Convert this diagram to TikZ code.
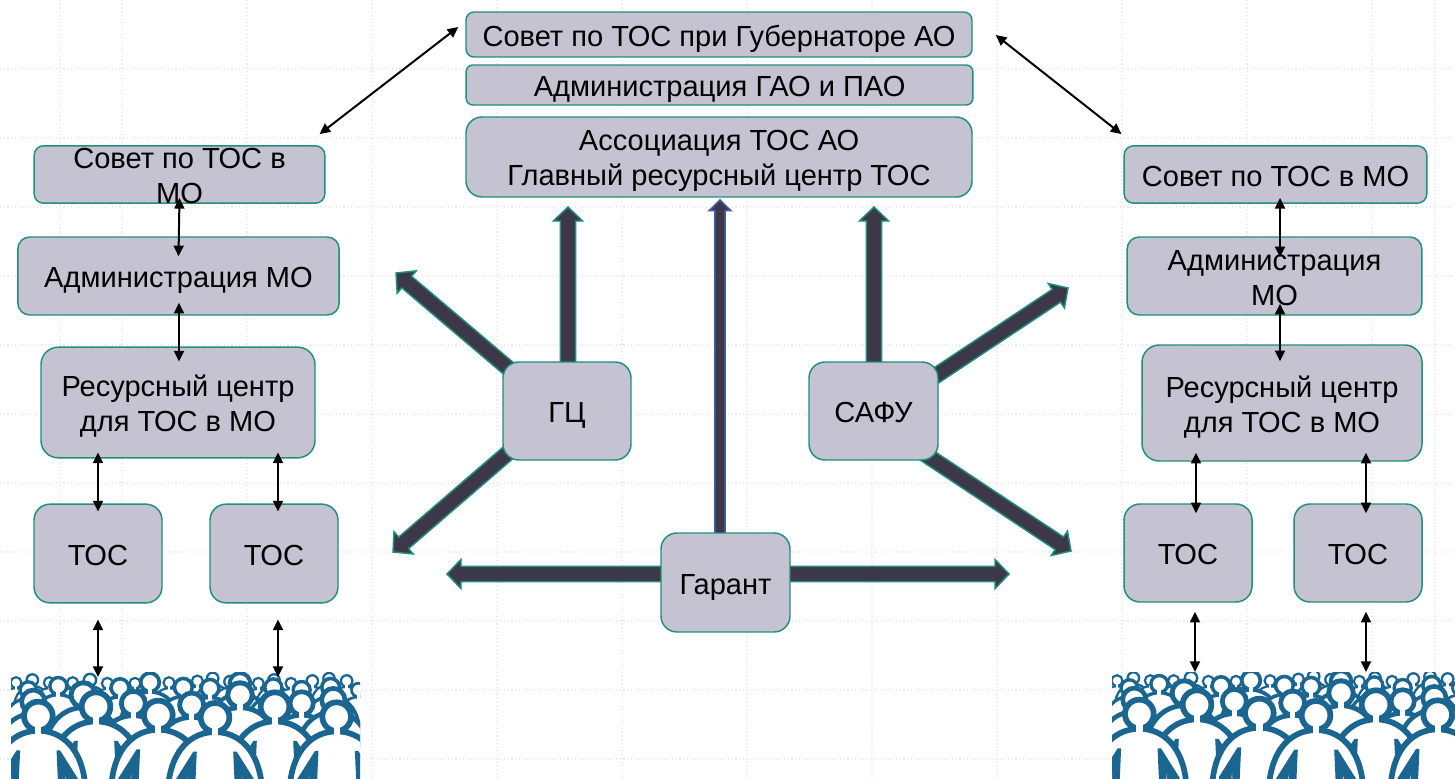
\documentclass[tikz,border=0pt]{standalone}
\usepackage{fontspec}
\setmainfont{Liberation Sans}
\usetikzlibrary{calc,arrows.meta}
\definecolor{boxfill}{HTML}{C5C3D2}
\definecolor{tealline}{HTML}{1F9079}
\definecolor{darkarrow}{HTML}{3C3849}
\definecolor{bluearrow}{HTML}{3F5FA6}
\definecolor{crowdblue}{HTML}{1B6690}
\definecolor{gridgray}{HTML}{EAEAEA}
\pgfdeclarelayer{under}
\pgfsetlayers{under,main}
\newcommand\shaftw{5.7pt}
\newcommand\headw{11pt}
\newcommand\headl{10.5pt}
\newcommand\blockarrow[4][]{%
  \coordinate (ba-s) at ($(#2)+(#3)$);
  \coordinate (ba-t) at #4;
  \coordinate (ba-b) at ($(ba-t)!\headl!(ba-s)$);
  \draw[blockarr,#1] ($(ba-s)!\shaftw!90:(ba-t)$) -- ($(ba-b)!\shaftw!90:(ba-t)$) -- ($(ba-b)!\headw!90:(ba-t)$) -- (ba-t) -- ($(ba-b)!\headw!-90:(ba-t)$) -- ($(ba-b)!\shaftw!-90:(ba-t)$) -- ($(ba-s)!\shaftw!-90:(ba-t)$) -- cycle;}
\newcommand\otxt[2][-8.6pt]{\makebox[0pt]{\smash{\raisebox{#1}{\parbox[c]{440pt}{\centering\strut #2\strut}}}}}
\newcommand\crowdperson[3]{%
  \begin{scope}[shift={(#1,#2)},scale=#3,line width=#3*4.1pt,draw=crowdblue]
    \draw[fill=white] (-150,320) -- (-135,210) .. controls (-128,90) and (-65,42) .. (0,42) .. controls (65,42) and (128,90) .. (135,210) -- (150,320) -- cycle;
    \ifdim #3pt>.95pt
    \fill[crowdblue] (-62,98) -- (-115,182) -- (-125,320) -- (-62,320) -- (-52,98) -- cycle;
    \fill[crowdblue] (62,98) -- (115,182) -- (125,320) -- (62,320) -- (52,98) -- cycle;
    \fill[white] (-78,170) -- (-90,320) -- (-72,320) -- cycle;
    \fill[white] (78,170) -- (90,320) -- (72,320) -- cycle;
    \fi
    \draw[fill=white] (0,0) circle (41);
    \fill[white] (-9,28) rectangle (9,56);
  \end{scope}}
\newcommand\crowdall{%
  \foreach \px/\py/\ps in {48/248/.4,97/240/.42,148/248/.4,218/248/.4,270/240/.45,322/250/.4,405/250/.4,507/248/.4,592/243/.4,638/235/.42,690/245/.42,775/250/.4,822/240/.42,873/250/.4,937/243/.42,987/236/.42,1040/243/.42,1075/270/.5}
    {\crowdperson{\px}{\py}{\ps}}
  \foreach \px/\py/\ps in {85/270/.6,175/258/.62,360/263/.65,450/247/.68,550/262/.65,630/265/.65,720/250/.75,820/262/.62,905/270/.62,992/262/.65}
    {\crowdperson{\px}{\py}{\ps}}
  \foreach \px/\py/\ps in {100/305/.85,250/285/.9,400/310/.88,575/315/.88,720/285/.9,905/310/.85,1000/300/.85}
    {\crowdperson{\px}{\py}{\ps}}
  \foreach \px/\py/\ps in {288/320/1.05,825/320/1.05}
    {\crowdperson{\px}{\py}{\ps}}
  \foreach \px/\py/\ps in {115/348/1.05,475/345/1.05,645/352/1.05,1010/350/1.05}
    {\crowdperson{\px}{\py}{\ps}}}
\tikzset{
  x=0.75pt,y=-0.75pt,
  orgbox/.style={draw=tealline,fill=boxfill,line width=1.1pt,inner sep=0pt,
    font=\fontsize{21.8}{26.3}\selectfont,text=black},
  blockarr/.style={draw=tealline,fill=darkarrow,line width=1.1pt,line join=miter},
  dblarrow/.style={draw=black,line width=1.5pt,{Triangle[length=8pt,width=7.5pt]}-{Triangle[length=8pt,width=7.5pt]}},
  gridline/.style={draw=gridgray,line width=0.8pt,dotted},
  crowdarea/.style={inner sep=0pt,outer sep=0pt}
}
\begin{document}
\begin{tikzpicture}
\useasboundingbox (0,0) rectangle (1455,778);
% org boxes
\node[orgbox,rounded corners=6pt,minimum width=379.5pt,minimum height=33.75pt] (top1) at (719,34.5) {\otxt{Совет по ТОС при Губернаторе АО}};
\node[orgbox,rounded corners=5pt,minimum width=380pt,minimum height=30pt] (top2) at (719.5,85) {\otxt{Администрация ГАО и ПАО}};
\node[orgbox,rounded corners=12pt,minimum width=379.5pt,minimum height=60pt] (top3) at (719,157) {\otxt[-8pt]{Ассоциация ТОС АО\\Главный ресурсный центр ТОС}};
% left column
\node[orgbox,rounded corners=7pt,minimum width=218pt,minimum height=43pt] (lsov) at (179.5,174.5) {\otxt{Совет по ТОС в\\МО}};
\node[orgbox,rounded corners=9pt,minimum width=241pt,minimum height=58.5pt] (ladm) at (178.5,276) {\otxt{Администрация МО}};
\node[orgbox,rounded corners=13pt,minimum width=205.5pt,minimum height=83pt] (lres) at (178,402.5) {\otxt{Ресурсный центр\\для ТОС в МО}};
\node[orgbox,rounded corners=12pt,minimum width=96pt,minimum height=74pt] (ltosa) at (98,553.5) {\otxt{ТОС}};
\node[orgbox,rounded corners=12pt,minimum width=96pt,minimum height=74pt] (ltosb) at (274,553.5) {\otxt{ТОС}};
% right column
\node[orgbox,rounded corners=7pt,minimum width=227pt,minimum height=43pt] (rsov) at (1275.5,174.5) {\otxt{Совет по ТОС в МО}};
\node[orgbox,rounded corners=9pt,minimum width=221pt,minimum height=58.5pt] (radm) at (1274.5,276) {\otxt{Администрация\\МО}};
\node[orgbox,rounded corners=13pt,minimum width=210pt,minimum height=87pt] (rres) at (1282,403) {\otxt{Ресурсный центр\\для ТОС в МО}};
\node[orgbox,rounded corners=12pt,minimum width=96pt,minimum height=73.5pt] (rtosa) at (1188,553) {\otxt{ТОС}};
\node[orgbox,rounded corners=12pt,minimum width=96pt,minimum height=73.5pt] (rtosb) at (1358,553) {\otxt{ТОС}};
% centre
\node[orgbox,rounded corners=12pt,minimum width=96pt,minimum height=73.5pt] (gc) at (567,411) {\otxt{ГЦ}};
\node[orgbox,rounded corners=12pt,minimum width=96.75pt,minimum height=73.5pt] (safu) at (873.5,411) {\otxt{САФУ}};
\node[orgbox,rounded corners=12pt,minimum width=96.75pt,minimum height=74.25pt] (garant) at (725.5,582.5) {\otxt{Гарант}};
% crowds
\node[crowdarea,minimum width=261.75pt,minimum height=76.5pt] (lcrowd) at (185.5,727) {};
\node[crowdarea,minimum width=257.25pt,minimum height=76.5pt] (rcrowd) at (1283.5,727) {};
\begin{scope}
  \clip (lcrowd.north west) ++(0,-4) rectangle (lcrowd.south east);
  \begin{scope}[shift={(0,600)},x=0.25pt,y=-0.25pt]\crowdall\end{scope}
\end{scope}
\begin{scope}
  \clip (rcrowd.north west) ++(0,-4) rectangle (rcrowd.south east);
  \begin{scope}[shift={(1101,598)},x=0.25pt,y=-0.25pt]\crowdall\end{scope}
\end{scope}
% under layer: grid and block arrows
\begin{pgfonlayer}{under}
  \fill[white] (0,0) rectangle (1455,778);
  \foreach \gy in {69,138,...,759} {\draw[gridline] (0,\gy) -- (1455,\gy);}
  \foreach \gx in {60,122,247,372,497,622,747,872,997,1122,1247,1372,1435} {\draw[gridline] (\gx,0) -- (\gx,778);}
  \blockarrow{gc}{1,0}{(568,207)}
  \blockarrow{gc}{0,7}{(396,273)}
  \blockarrow{gc}{0,-9}{(393,552)}
  \blockarrow{safu}{0.5,0}{(874,207)}
  \blockarrow{safu}{0,6}{(1068,288)}
  \blockarrow{safu}{0,9}{(1071,551)}
  \blockarrow{garant}{0,-8.5}{(447,574)}
  \blockarrow{garant}{0,-8.5}{(1009,574)}
  \renewcommand\shaftw{3.9pt}\renewcommand\headw{8.2pt}\renewcommand\headl{8pt}
  \blockarrow[draw=bluearrow]{garant}{-5.5,0}{(720,200)}
\end{pgfonlayer}
% thin double arrows
\draw[dblarrow] ($(lsov.north east)+(-6,-11)$) -- ($(top1.west)+(-7,-7.5)$);
\draw[dblarrow] ($(top1.east)+(23,0.5)$) -- ($(rsov.north west)+(-2,-11)$);
\draw[dblarrow] ($(lsov.south)+(0,-6)$) -- ($(ladm.north)+(0,20)$);
\draw[dblarrow] ($(ladm.south)+(0.5,-13)$) -- ($(lres.north)+(1,15)$);
\draw[dblarrow] ($(lres.south -| ltosa.north)+(0,-6)$) -- ($(ltosa.north)+(0,8)$);
\draw[dblarrow] ($(lres.south -| ltosb.north)+(4,-6)$) -- ($(ltosb.north)+(4,8)$);
\draw[dblarrow] ($(ltosa.south)+(0,16)$) -- ($(ltosa.south |- lcrowd.north)+(0,1)$);
\draw[dblarrow] ($(ltosb.south)+(4,16)$) -- ($(ltosb.south |- lcrowd.north)+(4,1)$);
\draw[dblarrow] ($(rsov.south)+(4.5,-6)$) -- ($(radm.north)+(5.5,21)$);
\draw[dblarrow] ($(radm.south)+(5.5,-12)$) -- ($(rres.north)+(-2,17)$);
\draw[dblarrow] ($(rres.south -| rtosa.north)+(8,-9)$) -- ($(rtosa.north)+(8,10)$);
\draw[dblarrow] ($(rres.south -| rtosb.north)+(8,-9)$) -- ($(rtosb.north)+(8,10)$);
\draw[dblarrow] ($(rtosa.south)+(7,9)$) -- ($(rtosa.south |- rcrowd.north)+(7,-4)$);
\draw[dblarrow] ($(rtosb.south)+(8,9)$) -- ($(rtosb.south |- rcrowd.north)+(8,-4)$);
\end{tikzpicture}
\end{document}
